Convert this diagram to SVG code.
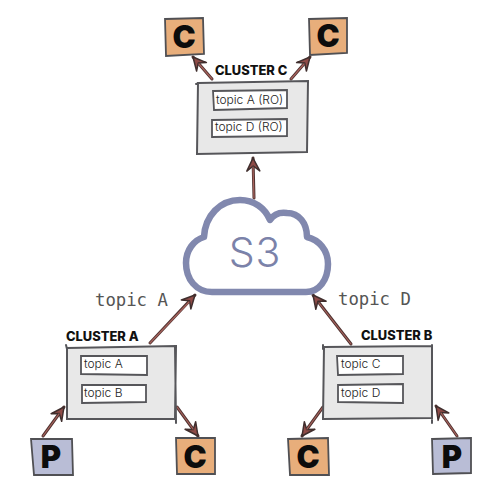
<svg xmlns="http://www.w3.org/2000/svg" width="500" height="500" viewBox="0 0 500 500">
<style>
.box{fill:#e8e8e8;stroke:#56565a;stroke-width:2;stroke-linecap:round}
.topic{fill:#fff;stroke:#56565a;stroke-width:1.8;stroke-linecap:round}
.o{fill:#e8ae7b;stroke:#505054;stroke-width:1.8;stroke-linecap:round}
.p{fill:#b9bdd6;stroke:#505054;stroke-width:1.8;stroke-linecap:round}
.tt{font-family:Inter,"Liberation Sans",sans-serif;font-size:12px;font-weight:300;fill:#222}
.cl{font-family:Inter,"Liberation Sans",sans-serif;font-size:12.9px;font-weight:800;fill:#111}
.big{font-family:Inter,"Liberation Sans",sans-serif;font-size:31px;font-weight:900;fill:#0c0c0c;text-anchor:middle}
.mono{font-family:"DejaVu Sans Mono",monospace;font-size:17.3px;font-weight:400;fill:#555}
.ln{stroke:#4f3331;stroke-width:3;fill:none;stroke-linecap:round}
.in{stroke:#a8625c;stroke-width:1.2;fill:none;stroke-linecap:round}
</style>
<defs>
<marker id="ah" markerUnits="userSpaceOnUse" markerWidth="20" markerHeight="20" refX="16" refY="10" orient="auto">
<path d="M16 10 L3 3.5 L8 10 L3 16.5 Z" fill="#8e4b47" stroke="#3f2e2d" stroke-width="1.5" stroke-linejoin="round"/>
</marker>
</defs>
<g id="connectors">
<line class="ln" x1="212" y1="79" x2="193" y2="57" marker-end="url(#ah)"/><line class="in" x1="212" y1="79" x2="199" y2="64"/>
<line class="ln" x1="291" y1="79" x2="310" y2="57" marker-end="url(#ah)"/><line class="in" x1="291" y1="79" x2="304" y2="64"/>
<line class="ln" x1="254" y1="198" x2="253" y2="158" marker-end="url(#ah)"/><line class="in" x1="254" y1="198" x2="253" y2="167"/>
<line class="ln" x1="150" y1="343" x2="195" y2="295" marker-end="url(#ah)"/><line class="in" x1="150" y1="343" x2="189" y2="302"/>
<line class="ln" x1="351" y1="344" x2="313" y2="295" marker-end="url(#ah)"/><line class="in" x1="351" y1="344" x2="319" y2="303"/>
<line class="ln" x1="43" y1="436" x2="64" y2="407" marker-end="url(#ah)"/><line class="in" x1="43" y1="436" x2="59" y2="414"/>
<line class="ln" x1="177" y1="407" x2="198" y2="436" marker-end="url(#ah)"/><line class="in" x1="177" y1="407" x2="193" y2="429"/>
<line class="ln" x1="323" y1="407" x2="302" y2="436" marker-end="url(#ah)"/><line class="in" x1="323" y1="407" x2="307" y2="429"/>
<line class="ln" x1="457" y1="436" x2="436" y2="406" marker-end="url(#ah)"/><line class="in" x1="457" y1="436" x2="441" y2="413"/>
</g>
<g id="s3">
<path d="M212 292 C196 292 186 279 186 263 C186 250 194 240 204 237 C205 216 220 200 240 200 C254 200 265 208 270 220 C274 214 280 212 287 213 C299 213 307 223 307 237 C319 240 328 250 328 264 C328 280 319 292 306 292 Z" fill="#fff" stroke="#8188ae" stroke-width="6.5" stroke-linejoin="round"/>
<text x="255" y="267" text-anchor="middle" font-family="Inter,'Liberation Sans',sans-serif" font-size="41" font-weight="300" letter-spacing="1" fill="#7b82a9">S3</text>
</g>
<g id="cluster-c">
<path class="box" d="M198 83 L308 81 L307 152 L197 154 Z M196 84 L199 83"/>
<path class="topic" d="M213 91 L287 90 L287 108 L214 110 Z"/>
<path class="topic" d="M212 120 L287 119 L287 136 L212 137 Z"/>
<text class="tt" x="216" y="104">topic A (RO)</text>
<text class="tt" x="215" y="131">topic D (RO)</text>
<text class="cl" x="215" y="75">CLUSTER C</text>
</g>
<g id="cluster-a">
<path class="box" d="M67 348 L176 346 L175 419 L67 419 Z M66 345 L67 349 M175 346 L176 423"/>
<path class="topic" d="M81 356 L147 356 L147 375 L81 374 Z"/>
<path class="topic" d="M82 385 L146 385 L146 402 L82 403 Z"/>
<text class="tt" x="84" y="368">topic A</text>
<text class="tt" x="84" y="397">topic B</text>
<text class="cl" x="66" y="341">CLUSTER A</text>
</g>
<g id="cluster-b">
<path class="box" d="M324 347 L432 346 L432 418 L323 419 Z M323 345 L323 349 M432 345 L432 423"/>
<path class="topic" d="M337 356 L403 356 L403 374 L338 375 Z"/>
<path class="topic" d="M338 385 L403 384 L403 403 L338 402 Z"/>
<text class="tt" x="341" y="368">topic C</text>
<text class="tt" x="341" y="397">topic D</text>
<text class="cl" x="361" y="340">CLUSTER B</text>
</g>
<g id="c1"><path class="o" d="M165 19 L203 18 L204 54 L166 56 Z"/><text class="big" x="184" y="48">C</text></g>
<g id="c2"><path class="o" d="M309 19 L347 18 L347 53 L310 55 Z"/><text class="big" x="328" y="47">C</text></g>
<g id="p1"><path class="p" d="M31 439 L72 439 L73 475 L34 475 Z"/><text class="big" x="51" y="468">P</text></g>
<g id="c3"><path class="o" d="M176 438 L215 438 L215 474 L177 474 Z"/><text class="big" x="195" y="468">C</text></g>
<g id="c4"><path class="o" d="M288 439 L328 438 L329 475 L290 475 Z"/><text class="big" x="308" y="468">C</text></g>
<g id="p2"><path class="p" d="M432 439 L471 438 L471 473 L433 474 Z"/><text class="big" x="452" y="468">P</text></g>
<text class="mono" x="95" y="306">topic A</text>
<text class="mono" x="338" y="305">topic D</text>
</svg>
